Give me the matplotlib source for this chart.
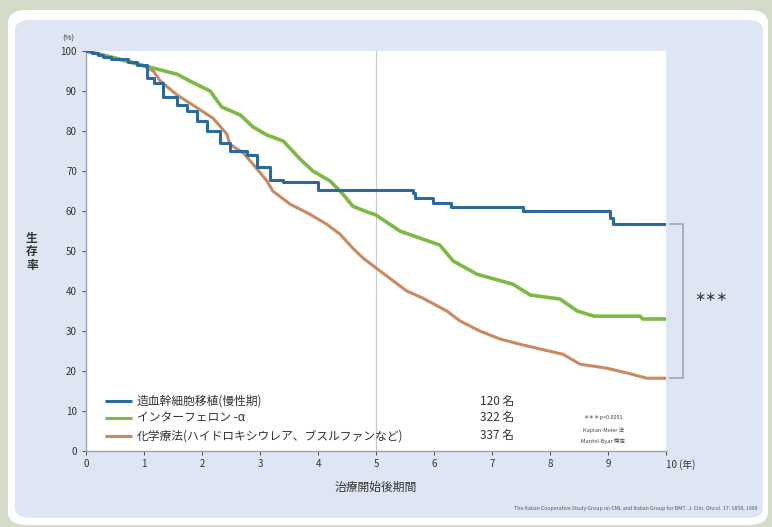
import matplotlib
matplotlib.use("Agg")
import matplotlib.pyplot as plt
from matplotlib.patches import FancyBboxPatch

plt.rcParams['font.family'] = ['Noto Sans CJK JP', 'DejaVu Sans']

# ---------- データ (生存率 %, 年) ----------
sct_t = [0, 0.1, 0.2, 0.3, 0.43, 0.72, 0.88, 1.05, 1.17, 1.33, 1.57, 1.74, 1.91, 2.09, 2.31,
         2.48, 2.78, 2.95, 3.17, 3.40, 4.0, 5.64, 5.67, 5.98, 6.3, 7.53, 9.03, 9.08, 9.12, 10.0]
sct_s = [100, 99.5, 99, 98.5, 98, 97.2, 96.5, 93.3, 92, 88.5, 86.5, 85, 82.5, 80, 77,
         75, 74, 71, 67.7, 67.2, 65.2, 64.5, 63.3, 62, 61, 60, 58.3, 56.8, 56.8, 56.8]

ifn_t = [0, 0.43, 0.81, 1.22, 1.57, 1.79, 2.14, 2.34, 2.66, 2.88, 3.12, 3.40, 3.69, 3.91,
         4.21, 4.43, 4.60, 4.84, 5.0, 5.41, 5.8, 6.1, 6.33, 6.74, 7.36, 7.66, 8.17, 8.47,
         8.76, 9.55, 9.6, 10.0]
ifn_s = [100, 98.5, 97, 95.5, 94.2, 92.5, 90, 86, 84, 81, 79, 77.5, 73, 70,
         67.5, 64.2, 61.2, 59.8, 59, 55, 53, 51.5, 47.5, 44.2, 41.7, 39, 38, 35,
         33.7, 33.7, 33, 33]

chemo_t = [0, 0.72, 0.93, 1.16, 1.28, 1.57, 1.84, 2.19, 2.43, 2.48, 2.71, 2.88, 3.12, 3.22,
           3.52, 3.86, 4.15, 4.38, 4.6, 4.78, 5.07, 5.53, 5.81, 6.22, 6.45, 6.79, 7.14, 7.48,
           7.83, 8.22, 8.52, 8.98, 9.33, 9.67, 10.0]
chemo_s = [100, 97.5, 96.7, 95, 92.5, 89, 86.5, 83.2, 79.2, 76.7, 74.5, 71.7, 67.5, 65,
           61.7, 59.2, 56.7, 54.2, 50.7, 48.2, 45, 40, 38.2, 35, 32.5, 30, 28, 26.7,
           25.5, 24.2, 21.7, 20.7, 19.5, 18.2, 18.2]

labels = ["造血幹細胞移植(慢性期)", "インターフェロン -α", "化学療法(ハイドロキシウレア、ブスルファンなど)"]
counts = ["120 名", "322 名", "337 名"]
colors = ["#2d6a9c", "#7cba45", "#c98a5f"]

xticks = list(range(0, 11))
xticklabels = [str(v) for v in range(0, 10)] + ["10 (年)"]
yticks = list(range(0, 101, 10))

W, H = 772, 527
fig = plt.figure(figsize=(W / 100, H / 100), dpi=100)
fig.patch.set_facecolor("#d5dbc9")

# 背景の白枠と水色パネル
fig.patches.append(FancyBboxPatch((8 / W, 2 / H), 760 / W, 515 / H,
                                  boxstyle="round,pad=0,rounding_size=0.025",
                                  transform=fig.transFigure, fc="white", ec="none",
                                  zorder=-10))
fig.patches.append(FancyBboxPatch((15 / W, 9 / H), 748 / W, 498 / H,
                                  boxstyle="round,pad=0,rounding_size=0.02",
                                  transform=fig.transFigure, fc="#dfe6f3", ec="none",
                                  zorder=-9))

ax = fig.add_axes([86 / W, 1 - 451 / H, 580 / W, 400 / H])
ax.set_facecolor("white")
ax.set_xlim(0, 10)
ax.set_ylim(0, 100)

ax.axvline(5, color="#c8c8c8", lw=0.8, zorder=1)

ax.plot(chemo_t, chemo_s, color=colors[2], lw=2.2, zorder=3)
ax.plot(ifn_t, ifn_s, color=colors[1], lw=2.6, zorder=3)
ax.plot(sct_t, sct_s, color=colors[0], lw=2.2, drawstyle="steps-post", zorder=4)

for sp in ["top", "right"]:
    ax.spines[sp].set_visible(False)
for sp in ["left", "bottom"]:
    ax.spines[sp].set_color("#9aa3b0")
    ax.spines[sp].set_linewidth(1.0)

ax.set_xticks(xticks)
ax.set_xticklabels(xticklabels)
ax.set_yticks(yticks)
ax.tick_params(axis="both", labelsize=7, colors="#333333", length=3, width=0.6)
ax.tick_params(axis="x", pad=3)
labs = ax.get_xticklabels()
labs[-1].set_horizontalalignment("left")
labs[-1].set_x(9.93)

ax.text(-0.3, 102, "(%)", fontsize=5.5, color="#333333", ha="center", va="bottom")
fig.text(32 / W, 1 - 252 / H, "生\n存\n率", fontsize=8.5, color="#333333",
         ha="center", va="center", linespacing=1.05, fontweight="bold")
ax.set_xlabel("治療開始後期間", fontsize=8.5, color="#333333", labelpad=8)

# 凡例
leg_y = [12.5, 8.3, 3.8]
for lab, cnt, col, yy in zip(labels, counts, colors, leg_y):
    ax.plot([0.33, 0.8], [yy, yy], color=col, lw=2.2, solid_capstyle="butt")
    ax.text(0.88, yy, lab, fontsize=8.5, color="#333333", va="center")
    ax.text(6.8, yy, cnt, fontsize=8.5, color="#333333", va="center")

ax.text(8.92, 8.3, "＊＊＊p<0.0001", fontsize=4, color="#444444", ha="center", va="center")
ax.text(8.92, 5.3, "Kaplan-Meier 法", fontsize=4, color="#444444", ha="center", va="center")
ax.text(8.92, 2.6, "Mantel-Byar 検定", fontsize=4, color="#444444", ha="center", va="center")

# 有意差ブラケット
ax.plot([10.07, 10.3, 10.3, 10.07], [56.8, 56.8, 18.2, 18.2], color="#a0a7b2",
        lw=1.2, clip_on=False)
ax.text(10.78, 38.3, "＊＊＊", fontsize=8, color="#333333", ha="center", va="center",
        fontweight="bold")

fig.text(757 / W, 1 - 508 / H,
         "The Italian Cooperative Study Group on CML and Italian Group for BMT. J. Clin. Oncol. 17: 1858, 1999",
         fontsize=3.8, color="#555555", ha="right", va="center")

fig.savefig("out.png", dpi=100, facecolor=fig.get_facecolor())
